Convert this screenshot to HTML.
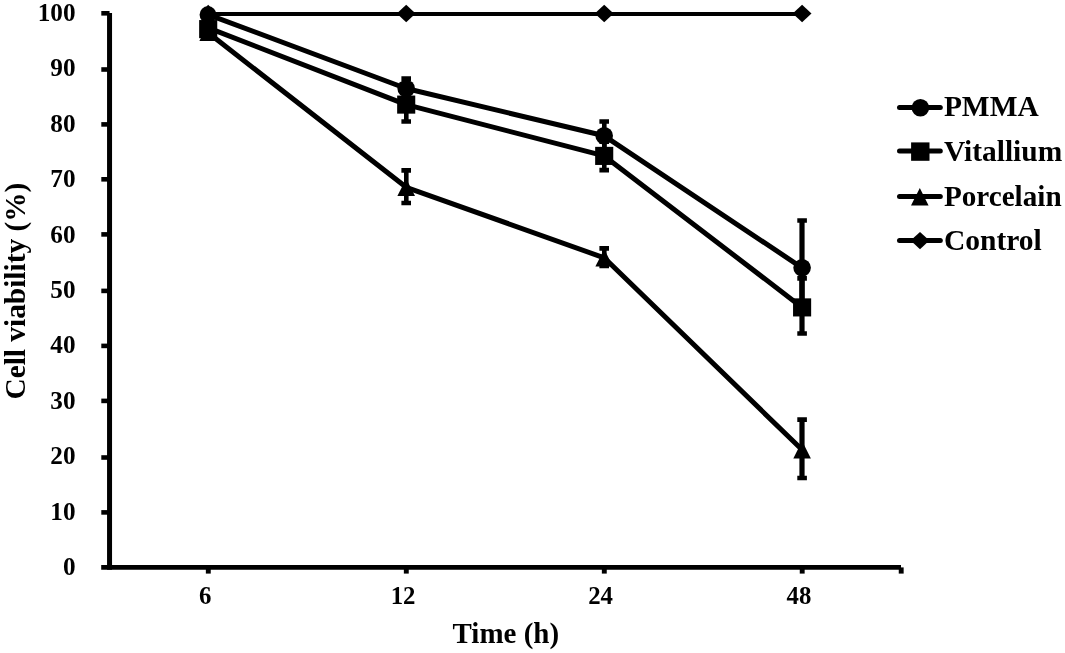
<!DOCTYPE html>
<html><head><meta charset="utf-8"><title>Cell viability</title>
<style>html,body{margin:0;padding:0;background:#fff}svg{display:block;filter:grayscale(1)}</style></head>
<body>
<svg width="1065" height="653" viewBox="0 0 1065 653">
<rect width="1065" height="653" fill="#fff"/>
<g stroke="#000" fill="none" stroke-width="4.7">
<path d="M109.55 13.1 V569.6999999999999" stroke-width="5"/>
<path d="M101.2 567.4 H901" stroke-width="4.8"/>
<path d="M101.3 512.40 H109.55" stroke-width="4.6"/>
<path d="M101.3 457.50 H109.55" stroke-width="4.6"/>
<path d="M101.3 400.90 H109.55" stroke-width="4.6"/>
<path d="M101.3 345.90 H109.55" stroke-width="4.6"/>
<path d="M101.3 290.90 H109.55" stroke-width="4.6"/>
<path d="M101.3 234.40 H109.55" stroke-width="4.6"/>
<path d="M101.3 179.30 H109.55" stroke-width="4.6"/>
<path d="M101.3 124.40 H109.55" stroke-width="4.6"/>
<path d="M101.3 69.50 H109.55" stroke-width="4.6"/>
<path d="M101.3 13.30 H109.55" stroke-width="4.6"/>
<path d="M208.29999999999998 567.4 V573.6" stroke-width="4.9"/>
<path d="M406.3 567.4 V573.6" stroke-width="4.9"/>
<path d="M604.3000000000001 567.4 V573.6" stroke-width="4.9"/>
<path d="M802.2 567.4 V573.6" stroke-width="4.9"/>
<path d="M901.2 567.4 V573.6" stroke-width="4.9"/>
</g>
<g stroke="#000" fill="none" stroke-width="5.0" stroke-linejoin="round">
<polyline points="208.2,13.95 406.2,13.95 604.2,13.95 802.1,13.95" stroke-width="4.15"/>
<polyline points="208.2,14.6 406.2,88.5 604.2,135.8 802.1,267.8"/>
<polyline points="208.2,27.8 406.2,104.6 604.2,155.9 802.1,307.4"/>
<polyline points="208.2,32.8 406.2,187.3 604.2,257.8 802.1,449.8"/>
</g>
<g stroke="#000" fill="none">
<path d="M406.3 78.6 V98.0" stroke-width="4.6"/>
<path d="M401.4 78.6 H411.0 M401.4 98.0 H411.0" stroke-width="4.7"/>
<path d="M604.3000000000001 121.5 V149.5" stroke-width="4.6"/>
<path d="M599.4000000000001 121.5 H609.0 M599.4000000000001 149.5 H609.0" stroke-width="4.7"/>
<path d="M802.0 220.5 V313.0" stroke-width="5.2"/>
<path d="M797.3000000000001 220.5 H806.9 M797.3000000000001 313.0 H806.9" stroke-width="4.7"/>
<path d="M406.3 87.7 V121.5" stroke-width="4.6"/>
<path d="M401.4 87.7 H411.0 M401.4 121.5 H411.0" stroke-width="4.7"/>
<path d="M604.3000000000001 141.6 V170.2" stroke-width="4.6"/>
<path d="M599.4000000000001 141.6 H609.0 M599.4000000000001 170.2 H609.0" stroke-width="4.7"/>
<path d="M802.0 278.3 V333.5" stroke-width="5.2"/>
<path d="M797.3000000000001 278.3 H806.9 M797.3000000000001 333.5 H806.9" stroke-width="4.7"/>
<path d="M406.3 170.3 V203.0" stroke-width="4.6"/>
<path d="M401.4 170.3 H411.0 M401.4 203.0 H411.0" stroke-width="4.7"/>
<path d="M604.3000000000001 248.4 V266.0" stroke-width="4.6"/>
<path d="M599.4000000000001 248.4 H609.0 M599.4000000000001 266.0 H609.0" stroke-width="4.7"/>
<path d="M802.0 419.7 V478.0" stroke-width="5.2"/>
<path d="M797.3000000000001 419.7 H806.9 M797.3000000000001 478.0 H806.9" stroke-width="4.7"/>
</g>
<g fill="#000">
<path d="M208.2 4.800000000000001 L216.39999999999998 13.5 L208.2 22.2 L200.0 13.5 Z"/>
<path d="M406.2 4.800000000000001 L415.59999999999997 13.5 L406.2 22.2 L396.8 13.5 Z"/>
<path d="M604.2 4.800000000000001 L613.6 13.5 L604.2 22.2 L594.8000000000001 13.5 Z"/>
<path d="M802.1 4.800000000000001 L811.5 13.5 L802.1 22.2 L792.7 13.5 Z"/>
<circle cx="208.0" cy="14.8" r="8.45"/>
<circle cx="406.2" cy="88.5" r="8.8"/>
<circle cx="604.2" cy="135.8" r="8.8"/>
<circle cx="802.1" cy="267.8" r="8.8"/>
<rect x="199.14999999999998" y="20.05" width="18.1" height="18.1"/>
<rect x="397.15" y="95.55" width="18.1" height="18.1"/>
<rect x="595.1500000000001" y="146.85" width="18.1" height="18.1"/>
<rect x="793.0500000000001" y="298.34999999999997" width="18.1" height="18.1"/>
<path d="M208.2 23.499999999999996 L217.0 41.099999999999994 L199.39999999999998 41.099999999999994 Z"/>
<path d="M406.2 178.5 L415.0 196.10000000000002 L397.4 196.10000000000002 Z"/>
<path d="M604.2 249.0 L613.0 266.6 L595.4000000000001 266.6 Z"/>
<path d="M802.1 441.0 L810.9 458.6 L793.3000000000001 458.6 Z"/>
</g>
<g stroke="#000" stroke-width="5" stroke-linecap="round">
<path d="M899.5 107.4 H940.3"/>
<path d="M899.5 151.0 H940.3"/>
<path d="M899.5 196.6 H940.3"/>
<path d="M899.5 240.6 H940.3"/>
</g>
<g fill="#000">
<circle cx="920.4" cy="107.7" r="8.8"/>
<rect x="911.0999999999999" y="142.4" width="18.4" height="18.4"/>
<path d="M919.8 187.89999999999998 L928.5999999999999 205.5 L911.0 205.5 Z"/>
<path d="M920 231.9 L929.4 240.6 L920 249.29999999999998 L910.6 240.6 Z"/>
</g>
<g font-family="Liberation Serif, serif" font-weight="bold" fill="#000">
<text transform="translate(943.9 115.7) scale(0.9686 1)" font-size="30.4">PMMA</text>
<text transform="translate(943.9 160.8) scale(0.9686 1)" font-size="30.4">Vitallium</text>
<text transform="translate(943.9 205.8) scale(0.96 1)" font-size="30.4">Porcelain</text>
<text transform="translate(943.9 249.8) scale(0.972 1)" font-size="30.4">Control</text>
<text transform="translate(75.5 575.00) scale(0.985 1)" font-size="25.6" text-anchor="end">0</text>
<text transform="translate(75.5 519.61) scale(0.985 1)" font-size="25.6" text-anchor="end">10</text>
<text transform="translate(75.5 464.22) scale(0.985 1)" font-size="25.6" text-anchor="end">20</text>
<text transform="translate(75.5 408.83) scale(0.985 1)" font-size="25.6" text-anchor="end">30</text>
<text transform="translate(75.5 353.44) scale(0.985 1)" font-size="25.6" text-anchor="end">40</text>
<text transform="translate(75.5 298.05) scale(0.985 1)" font-size="25.6" text-anchor="end">50</text>
<text transform="translate(75.5 242.66) scale(0.985 1)" font-size="25.6" text-anchor="end">60</text>
<text transform="translate(75.5 187.27) scale(0.985 1)" font-size="25.6" text-anchor="end">70</text>
<text transform="translate(75.5 131.88) scale(0.985 1)" font-size="25.6" text-anchor="end">80</text>
<text transform="translate(75.5 76.49) scale(0.985 1)" font-size="25.6" text-anchor="end">90</text>
<text transform="translate(75.5 21.10) scale(0.985 1)" font-size="25.6" text-anchor="end">100</text>
<text transform="translate(205.10 604.0) scale(0.97 1)" font-size="25.6" text-anchor="middle">6</text>
<text transform="translate(403.10 604.0) scale(0.97 1)" font-size="25.6" text-anchor="middle">12</text>
<text transform="translate(600.60 604.0) scale(0.97 1)" font-size="25.6" text-anchor="middle">24</text>
<text transform="translate(799.00 604.0) scale(0.97 1)" font-size="25.6" text-anchor="middle">48</text>
<text transform="translate(505.8 642.9) scale(0.953 1)" font-size="30.4" text-anchor="middle">Time (h)</text>
<text transform="translate(25.2 291.1) rotate(-90) scale(0.966 1)" font-size="30.4" text-anchor="middle">Cell viability (%)</text>
</g>
</svg>
</body></html>
